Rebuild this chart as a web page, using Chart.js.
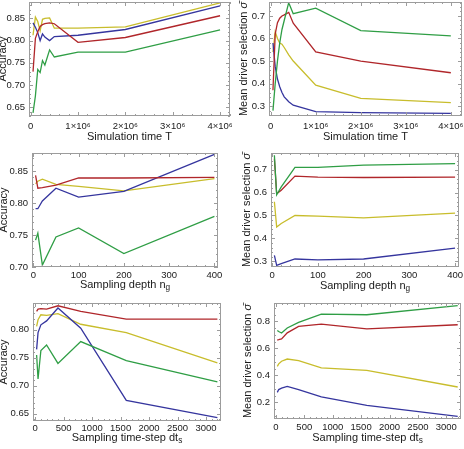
<!DOCTYPE html>
<html><head><meta charset="utf-8">
<script src="https://cdn.jsdelivr.net/npm/chart.js@4/dist/chart.umd.min.js"></script>
<style>
html,body{margin:0;padding:0;background:#fff;}
#wrap{position:relative;width:464px;height:449px;overflow:hidden;}
canvas{position:absolute;}
</style></head><body><div id="wrap">
<canvas id="c1" width="232" height="150" style="left:0;top:0"></canvas>
<canvas id="c2" width="232" height="150" style="left:232px;top:0"></canvas>
<canvas id="c3" width="232" height="150" style="left:0;top:150px"></canvas>
<canvas id="c4" width="232" height="150" style="left:232px;top:150px"></canvas>
<canvas id="c5" width="232" height="149" style="left:0;top:300px"></canvas>
<canvas id="c6" width="232" height="149" style="left:232px;top:300px"></canvas>
</div>
<script>
// ---------- data ----------
const simTime = [5e4, 1e5, 1.5e5, 2e5, 2.5e5, 3e5, 4e5, 5e5, 1e6, 2e6, 4e6];
const accTimeBlue   = [0.840, 0.830, 0.818, 0.800, 0.815, 0.808, 0.800, 0.809, 0.812, 0.825, 0.878];
const accTimeRed    = [0.730, 0.805, 0.820, 0.832, 0.836, 0.838, 0.840, 0.838, 0.796, 0.807, 0.856];
const accTimeYellow = [0.812, 0.853, 0.843, 0.822, 0.848, 0.850, 0.851, 0.828, 0.828, 0.831, 0.885];
const accTimeGreen  = [0.637, 0.675, 0.735, 0.728, 0.755, 0.745, 0.779, 0.763, 0.774, 0.774, 0.824];

const selTimeBlue   = [0.58, 0.475, 0.42, 0.386, 0.36, 0.341, 0.319, 0.304, 0.275, 0.271, 0.268];
const selTimeRed    = [0.37, 0.62, 0.67, 0.69, 0.70, 0.705, 0.716, 0.668, 0.541, 0.50, 0.448];
const selTimeYellow = [0.54, 0.63, 0.60, 0.58, 0.575, 0.56, 0.527, 0.50, 0.393, 0.334, 0.315];
const selTimeGreen  = [0.28, 0.40, 0.50, 0.58, 0.64, 0.68, 0.759, 0.71, 0.735, 0.635, 0.612];

const depth = [5, 10, 20, 50, 100, 200, 400];
const accDepthBlue   = [0.791, 0.791, 0.803, 0.823, 0.809, 0.818, 0.876];
const accDepthRed    = [0.843, 0.823, 0.824, 0.828, 0.839, 0.839, 0.840];
const accDepthYellow = [0.830, 0.834, 0.837, 0.829, 0.826, 0.819, 0.838];
const accDepthGreen  = [0.742, 0.753, 0.703, 0.747, 0.761, 0.721, 0.779];

const selDepthBlue   = [0.326, 0.282, 0.290, 0.310, 0.306, 0.310, 0.357];
const selDepthRed    = [0.748, 0.595, 0.610, 0.672, 0.668, 0.666, 0.668];
const selDepthYellow = [0.560, 0.450, 0.465, 0.500, 0.497, 0.490, 0.510];
const selDepthGreen  = [0.763, 0.590, 0.625, 0.710, 0.710, 0.720, 0.727];

const timeStep = [25, 50, 100, 200, 400, 800, 1600, 3200];
const accStepBlue   = [0.765, 0.795, 0.809, 0.816, 0.839, 0.803, 0.674, 0.643];
const accStepRed    = [0.833, 0.837, 0.838, 0.837, 0.843, 0.833, 0.819, 0.819];
const accStepYellow = [0.806, 0.818, 0.827, 0.826, 0.829, 0.810, 0.795, 0.741];
const accStepGreen  = [0.755, 0.712, 0.763, 0.773, 0.740, 0.779, 0.745, 0.707];

const selStepBlue   = [0.274, 0.295, 0.306, 0.318, 0.294, 0.240, 0.178, 0.096];
const selStepRed    = [0.662, 0.664, 0.670, 0.715, 0.763, 0.780, 0.744, 0.775];
const selStepYellow = [0.467, 0.485, 0.505, 0.521, 0.509, 0.455, 0.437, 0.314];
const selStepGreen  = [0.733, 0.725, 0.714, 0.751, 0.793, 0.854, 0.849, 0.916];

// tick values / labels
const timeTicks = [0, 1e6, 2e6, 3e6, 4e6];
const timeTickLabels = ['0', '1×10⁶', '2×10⁶', '3×10⁶', '4×10⁶'];
const depthTicks = [0, 100, 200, 300, 400];
const depthTickLabels = ['0', '100', '200', '300', '400'];
const stepTicks = [0, 500, 1000, 1500, 2000, 2500, 3000];
const stepTickLabels = ['0', '500', '1000', '1500', '2000', '2500', '3000'];
const accTicksA = [0.65, 0.70, 0.75, 0.80, 0.85];
const accTicksALabels = ['0.65', '0.70', '0.75', '0.80', '0.85'];
const accTicksB = [0.70, 0.75, 0.80, 0.85];
const accTicksBLabels = ['0.70', '0.75', '0.80', '0.85'];
const accTicksC = [0.65, 0.70, 0.75, 0.80];
const accTicksCLabels = ['0.65', '0.70', '0.75', '0.80'];
const selTicksA = [0.3, 0.4, 0.5, 0.6, 0.7];
const selTicksALabels = ['0.3', '0.4', '0.5', '0.6', '0.7'];
const selTicksC = [0.2, 0.4, 0.6, 0.8];
const selTicksCLabels = ['0.2', '0.4', '0.6', '0.8'];

// ---------- style ----------
const COL = {blue: '#35359e', red: '#b0262a', yellow: '#c8bd2c', green: '#2f9e45'};
const FONT = "'Liberation Sans', Arial, sans-serif";
const TXT = '#1a1a1a';

const framePlugin = {
  id: 'frame',
  afterDatasetsDraw(chart, args, o) {
    const {ctx, chartArea: a, scales: {x, y}} = chart;
    ctx.save();
    ctx.strokeStyle = '#9c9c9c';
    ctx.lineWidth = 1;
    ctx.strokeRect(Math.round(a.left) + 0.5, Math.round(a.top) + 0.5,
                   Math.round(a.right - a.left) - 1, Math.round(a.bottom - a.top) - 1);
    const tk = (scale, step, len, vert) => {
      const lo = scale.min, hi = scale.max;
      const start = Math.ceil(lo / step - 1e-9);
      for (let k = start; k * step <= hi + 1e-12; k++) {
        const p = Math.round(scale.getPixelForValue(k * step)) + 0.5;
        ctx.beginPath();
        if (vert) {
          ctx.moveTo(p, a.bottom); ctx.lineTo(p, a.bottom - len);
          ctx.moveTo(p, a.top); ctx.lineTo(p, a.top + len);
        } else {
          ctx.moveTo(a.left, p); ctx.lineTo(a.left + len, p);
          ctx.moveTo(a.right, p); ctx.lineTo(a.right - len, p);
        }
        ctx.stroke();
      }
    };
    tk(x, o.xMajor, 4, true); tk(x, o.xMinor, 2, true);
    tk(y, o.yMajor, 4, false); tk(y, o.yMinor, 2, false);
    ctx.restore();
  },
  afterDraw(chart, args, o) {
    const {ctx, chartArea: a} = chart;
    const drawSegs = (segs, cx, cy) => {
      const base = 11;
      const w = segs.reduce((s, g) => {
        ctx.font = (g.italic ? 'italic ' : '') + (g.sub ? base * 0.75 : base) + 'px ' + FONT;
        return s + ctx.measureText(g.t).width;
      }, 0);
      let xx = cx - w / 2;
      segs.forEach(g => {
        ctx.font = (g.italic ? 'italic ' : '') + (g.sub ? base * 0.75 : base) + 'px ' + FONT;
        ctx.fillText(g.t, xx, cy + (g.sub ? 3 : 0));
        xx += ctx.measureText(g.t).width;
      });
    };
    ctx.save();
    ctx.fillStyle = TXT;
    ctx.textBaseline = 'middle';
    ctx.textAlign = 'left';
    drawSegs(o.xTitle, (a.left + a.right) / 2, o.xTitleY);
    ctx.translate(o.yTitleX, (a.top + a.bottom) / 2);
    ctx.rotate(-Math.PI / 2);
    drawSegs(o.yTitle, 0, 0);
    ctx.restore();
  }
};

function makeChart(id, cfg) {
  const cv = document.getElementById(id);
  const W = cv.width, H = cv.height;
  const A = cfg.area;
  const mk = (s) => ({
    data: cfg.x.map((xv, i) => ({x: xv, y: s.v[i]})),
    borderColor: s.c, borderWidth: 1.3, pointRadius: 0, fill: false, tension: 0
  });
  const tickFont = {family: FONT, size: 9.5};
  new Chart(cv, {
    type: 'line',
    data: {datasets: cfg.series.map(mk)},
    options: {
      responsive: false, animation: false, devicePixelRatio: 1,
      layout: {padding: {left: 0, top: A[1], right: W - A[2], bottom: 0}},
      plugins: {
        legend: {display: false}, tooltip: {enabled: false},
        frame: {xMajor: cfg.xMajor, xMinor: cfg.xMinor, yMajor: cfg.yMajor, yMinor: cfg.yMinor,
                xTitle: cfg.xTitle, xTitleY: cfg.xTitleY, yTitle: cfg.yTitle, yTitleX: cfg.yTitleX}
      },
      scales: {
        x: {
          type: 'linear', min: cfg.xRange[0], max: cfg.xRange[1],
          afterBuildTicks: s => { s.ticks = cfg.xTicks.map(v => ({value: v})); },
          afterFit: s => { s.height = H - A[3]; s.paddingLeft = 0; s.paddingRight = 0; },
          ticks: {autoSkip: false, maxRotation: 0, padding: cfg.xPad, font: tickFont, color: TXT,
                  callback: (v, i) => cfg.xLabels[i]},
          grid: {display: false, drawTicks: false}, border: {display: false}
        },
        y: {
          type: 'linear', min: cfg.yRange[0], max: cfg.yRange[1],
          afterBuildTicks: s => { s.ticks = cfg.yTicks.map(v => ({value: v})); },
          afterFit: s => { s.width = A[0]; s.paddingTop = 0; s.paddingBottom = 0; },
          ticks: {autoSkip: false, padding: 4, font: tickFont, color: TXT,
                  callback: (v, i) => cfg.yLabels[i]},
          grid: {display: false, drawTicks: false}, border: {display: false}
        }
      }
    },
    plugins: [framePlugin]
  });
}

const accTitle = [{t: 'Accuracy'}];
const selTitle = [{t: 'Mean driver selection '}, {t: 'σ̄', italic: true}];

makeChart('c1', {
  area: [29, 2, 230, 116], x: simTime,
  series: [{v: accTimeGreen, c: COL.green}, {v: accTimeRed, c: COL.red}, {v: accTimeBlue, c: COL.blue}, {v: accTimeYellow, c: COL.yellow}],
  xRange: [-0.035e6, 4.21e6], yRange: [0.630, 0.887],
  xTicks: timeTicks, xLabels: timeTickLabels, yTicks: accTicksA, yLabels: accTicksALabels,
  xMajor: 1e6, xMinor: 2e5, yMajor: 0.05, yMinor: 0.01, xPad: 5,
  xTitle: [{t: 'Simulation time T'}], xTitleY: 137, yTitle: accTitle, yTitleX: 3
});
makeChart('c2', {
  area: [37, 2, 230, 116], x: simTime,
  series: [{v: selTimeGreen, c: COL.green}, {v: selTimeRed, c: COL.red}, {v: selTimeBlue, c: COL.blue}, {v: selTimeYellow, c: COL.yellow}],
  xRange: [-0.038e6, 4.248e6], yRange: [0.256, 0.762],
  xTicks: timeTicks, xLabels: timeTickLabels, yTicks: selTicksA, yLabels: selTicksALabels,
  xMajor: 1e6, xMinor: 2e5, yMajor: 0.1, yMinor: 0.02, xPad: 5,
  xTitle: [{t: 'Simulation time T'}], xTitleY: 137, yTitle: selTitle, yTitleX: 12
});
makeChart('c3', {
  area: [32, 3, 218, 117], x: depth,
  series: [{v: accDepthGreen, c: COL.green}, {v: accDepthRed, c: COL.red}, {v: accDepthBlue, c: COL.blue}, {v: accDepthYellow, c: COL.yellow}],
  xRange: [-2.9, 407.9], yRange: [0.70, 0.878],
  xTicks: depthTicks, xLabels: depthTickLabels, yTicks: accTicksB, yLabels: accTicksBLabels,
  xMajor: 100, xMinor: 20, yMajor: 0.05, yMinor: 0.01, xPad: 3,
  xTitle: [{t: 'Sampling depth n'}, {t: 'g', sub: true}], xTitleY: 135, yTitle: accTitle, yTitleX: 4
});
makeChart('c4', {
  area: [39, 3, 227, 117], x: depth,
  series: [{v: selDepthGreen, c: COL.green}, {v: selDepthRed, c: COL.red}, {v: selDepthBlue, c: COL.blue}, {v: selDepthYellow, c: COL.yellow}],
  xRange: [-2.4, 408.6], yRange: [0.275, 0.773],
  xTicks: depthTicks, xLabels: depthTickLabels, yTicks: selTicksA, yLabels: selTicksALabels,
  xMajor: 100, xMinor: 20, yMajor: 0.1, yMinor: 0.02, xPad: 3,
  xTitle: [{t: 'Sampling depth n'}, {t: 'g', sub: true}], xTitleY: 136, yTitle: selTitle, yTitleX: 15
});
makeChart('c5', {
  area: [33, 3, 221, 121], x: timeStep,
  series: [{v: accStepGreen, c: COL.green}, {v: accStepRed, c: COL.red}, {v: accStepBlue, c: COL.blue}, {v: accStepYellow, c: COL.yellow}],
  xRange: [-38.5, 3263.5], yRange: [0.637, 0.848],
  xTicks: stepTicks, xLabels: stepTickLabels, yTicks: accTicksC, yLabels: accTicksCLabels,
  xMajor: 500, xMinor: 100, yMajor: 0.05, yMinor: 0.01, xPad: 2,
  xTitle: [{t: 'Sampling time-step dt'}, {t: 's', sub: true}], xTitleY: 138, yTitle: accTitle, yTitleX: 4
});
makeChart('c6', {
  area: [42, 3, 229, 119], x: timeStep,
  series: [{v: selStepGreen, c: COL.green}, {v: selStepRed, c: COL.red}, {v: selStepBlue, c: COL.blue}, {v: selStepYellow, c: COL.yellow}],
  xRange: [-33, 3258], yRange: [0.077, 0.936],
  xTicks: stepTicks, xLabels: stepTickLabels, yTicks: selTicksC, yLabels: selTicksCLabels,
  xMajor: 500, xMinor: 100, yMajor: 0.2, yMinor: 0.05, xPad: 3,
  xTitle: [{t: 'Sampling time-step dt'}, {t: 's', sub: true}], xTitleY: 138, yTitle: selTitle, yTitleX: 16
});
</script></body></html>
